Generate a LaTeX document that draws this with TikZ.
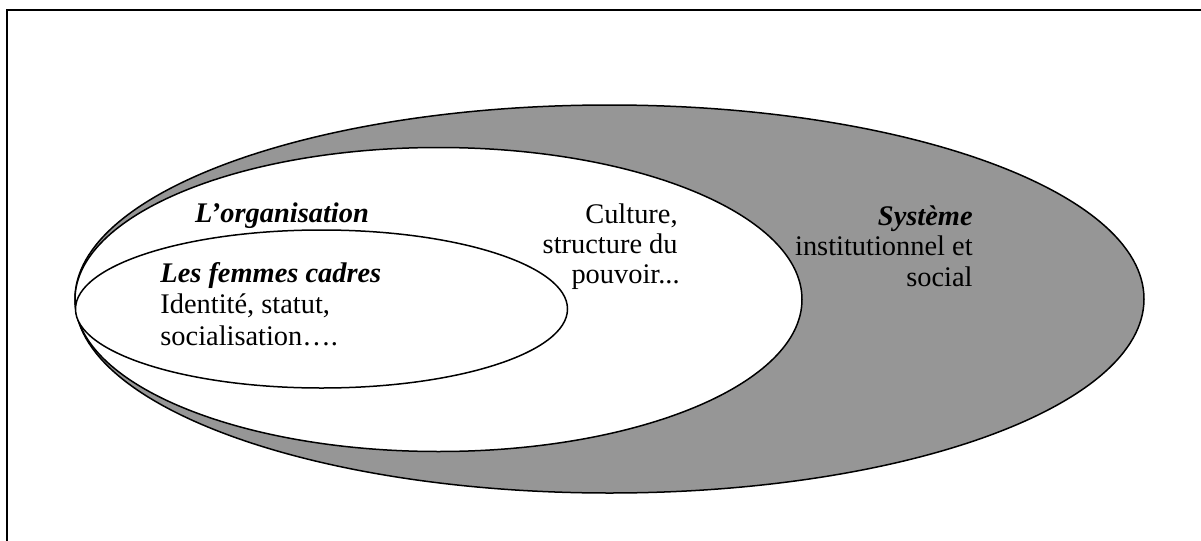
\documentclass[tikz,border=0pt]{standalone}
\usepackage{fontspec}
\setmainfont{Liberation Serif}
\definecolor{shade}{RGB}{150,150,150}
\begin{document}
\begin{tikzpicture}[x=0.5pt,y=-0.5pt,
  ring/.style={draw=black,line width=0.75pt},
  lbl/.style={inner sep=0pt,font=\fontsize{14.2}{15.5}\selectfont},
  frameline/.style={draw=black,line width=1.1pt}]
\useasboundingbox[fill=white] (0,0) rectangle (1201,541);
% frame (only top and left edges visible)
\draw[frameline] (7,541) -- (7,10) -- (1201,10);
% ellipses
\path[ring,fill=shade] (609.5,299) ellipse [x radius=534.5, y radius=194];
\path[ring,fill=white] (438.5,299.5) ellipse [x radius=363.5, y radius=152];
\path[ring,fill=white] (321.5,309) ellipse [x radius=246, y radius=79];
% texts
\node[lbl,anchor=base] (org) at (282,222) {\textbf{\textit{L’organisation}}};
\node[lbl,anchor=base west] (fem1) at (160,282) {\textbf{\textit{Les femmes cadres}}};
\node[lbl,anchor=base west] (fem2) at (160,313) {Identité, statut,};
\node[lbl,anchor=base west] (fem3) at (160,345) {socialisation….};
\node[lbl,anchor=base east] (cul1) at (678,223) {Culture,};
\node[lbl,anchor=base east] (cul2) at (678,253) {structure du};
\node[lbl,anchor=base east] (cul3) at (680,283) {pouvoir...};
\node[lbl,anchor=base east] (sys1) at (973,225) {\textbf{\textit{Système}}};
\node[lbl,anchor=base east] (sys2) at (973,255) {institutionnel et};
\node[lbl,anchor=base east] (sys3) at (973,286) {social};
\end{tikzpicture}
\end{document}
